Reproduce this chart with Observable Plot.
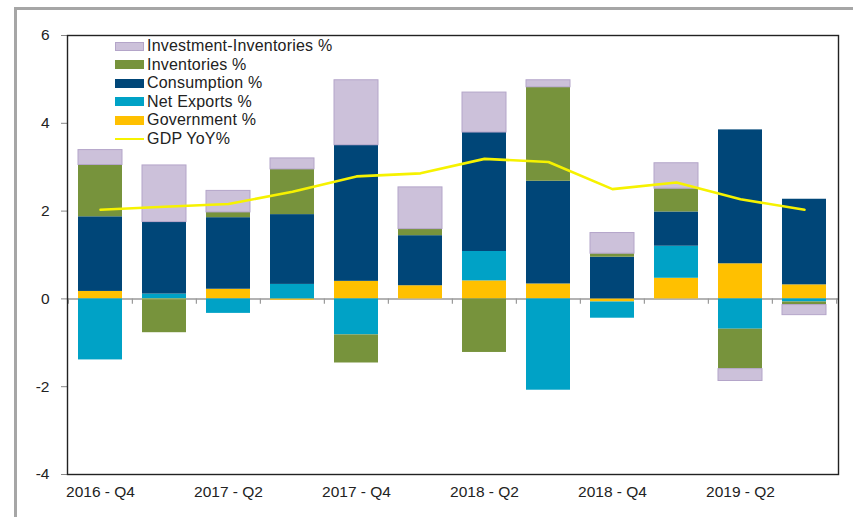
<!DOCTYPE html>
<html>
<head>
<meta charset="utf-8">
<script src="https://cdn.jsdelivr.net/npm/d3@7"></script>
<script src="https://cdn.jsdelivr.net/npm/@observablehq/plot@0.6"></script>
<style>
  html, body { margin: 0; padding: 0; background: #fff; overflow: hidden; }
  #wrap { position: relative; width: 853px; height: 517px; font-family: "Liberation Sans", Arial, sans-serif; }
  #frame { position: absolute; left: 14px; top: 7px; right: 0; bottom: -5px; border-left: 3px solid #a6a6a6; border-top: 3px solid #a6a6a6; pointer-events: none; }
  #legend { position: absolute; left: 115px; top: 37px; }
  .row { display: flex; align-items: center; height: 18.5px; font-size: 16px; color: #222; letter-spacing: 0.2px; }
  .sw { width: 29px; height: 9px; margin-right: 3px; box-sizing: border-box; }
  .ln { width: 29px; height: 2.5px; margin-right: 3px; }
</style>
</head>
<body>
<div id="wrap"><div id="chart"></div><div id="frame"></div><div id="legend"></div></div>
<script>
const quarters = ["2016 - Q4","2017 - Q1","2017 - Q2","2017 - Q3","2017 - Q4","2018 - Q1","2018 - Q2","2018 - Q3","2018 - Q4","2019 - Q1","2019 - Q2","2019 - Q3"];
const government   = [0.17, -0.02, 0.22, -0.03, 0.40, 0.30, 0.41, 0.34, -0.07, 0.47, 0.80, 0.32];
const netExports   = [-1.39, 0.11, -0.33, 0.33, -0.82, 0.00, 0.67, -2.08, -0.37, 0.73, -0.69, -0.07];
const consumption  = [1.70, 1.64, 1.63, 1.59, 3.10, 1.14, 2.71, 2.34, 0.95, 0.78, 3.05, 1.95];
const inventories  = [1.18, -0.75, 0.12, 1.03, -0.64, 0.15, -1.22, 2.14, 0.08, 0.53, -0.91, -0.07];
const investmentInv= [0.34, 1.29, 0.49, 0.25, 1.48, 0.95, 0.91, 0.16, 0.47, 0.58, -0.27, -0.23];
const gdpYoY       = [2.03, 2.10, 2.16, 2.44, 2.79, 2.86, 3.19, 3.12, 2.50, 2.65, 2.27, 2.03];
const yTicks = [-4, -2, 0, 2, 4, 6];
const xTickLabels = ["2016 - Q4","2017 - Q2","2017 - Q4","2018 - Q2","2018 - Q4","2019 - Q2"];

const seriesNames = ["Government %","Net Exports %","Consumption %","Inventories %","Investment-Inventories %"];
const seriesValues = [government, netExports, consumption, inventories, investmentInv];
const seriesColors = ["#ffc000","#00a2c6","#004678","#77933c","#ccc1da"];
const lineName = "GDP YoY%";
const lineColor = "#f6f200";

const rows = [];
seriesNames.forEach((s, i) => quarters.forEach((q, j) => rows.push({q, s, v: seriesValues[i][j]})));
const gdpRows = quarters.map((q, j) => ({q, v: gdpYoY[j]}));

const W = 853, H = 517, mL = 67, mR = 15, mT = 35, mB = 43;
const step = (W - mL - mR) / quarters.length;

const chart = Plot.plot({
  width: W, height: H,
  marginLeft: mL, marginRight: mR, marginTop: mT, marginBottom: mB,
  style: {fontFamily: "Liberation Sans, Arial, sans-serif", background: "transparent"},
  x: {domain: quarters, paddingInner: 0.31, paddingOuter: 0.155, label: null},
  y: {domain: [-4, 6], label: null},
  color: {domain: seriesNames, range: seriesColors},
  marks: [
    Plot.ruleY([0], {stroke: "#9a9a9a", strokeWidth: 1.5}),
    Plot.ruleX(quarters, {x: d => d, y1: 0, y2: -0.12, dx: -step / 2, stroke: "#9a9a9a", strokeWidth: 1.2}),
    Plot.ruleX(quarters.slice(-1), {x: d => d, y1: 0, y2: -0.12, dx: step / 2, stroke: "#9a9a9a", strokeWidth: 1.2}),
    Plot.barY(rows, {x: "q", y: "v", fill: "s",
      stroke: d => d.s === "Investment-Inventories %" ? "#b4a5c9" : "none", strokeWidth: 1}),
    Plot.line(gdpRows, {x: "q", y: "v", stroke: lineColor, strokeWidth: 2.6}),
    Plot.axisY({ticks: yTicks, tickFormat: d => String(d), tickSize: 6, tickPadding: 12, stroke: "#888", fontSize: 15.5, fill: "#222"}),
    Plot.axisX({tickSize: 0, tickPadding: 11, fontSize: 15.5, fill: "#222",
      tickFormat: d => xTickLabels.includes(d) ? d : "",
      style: {fontFamily: "Liberation Sans Narrow, Arial Narrow, Liberation Sans, sans-serif"}}),
    Plot.frame({stroke: "#222", strokeWidth: 1.4})
  ]
});
document.getElementById("chart").appendChild(chart);

const legend = document.getElementById("legend");
const legendItems = seriesNames.map((s, i) => ({s, c: seriesColors[i]})).reverse();
legendItems.forEach(({s, c}) => {
  const r = document.createElement("div"); r.className = "row";
  const sw = document.createElement("div"); sw.className = "sw"; sw.style.background = c;
  if (s === "Investment-Inventories %") sw.style.border = "1px solid #b4a5c9";
  const t = document.createElement("span"); t.textContent = s;
  r.appendChild(sw); r.appendChild(t); legend.appendChild(r);
});
{
  const r = document.createElement("div"); r.className = "row";
  const ln = document.createElement("div"); ln.className = "ln"; ln.style.background = lineColor;
  const t = document.createElement("span"); t.textContent = lineName;
  r.appendChild(ln); r.appendChild(t); legend.appendChild(r);
}
</script>
</body>
</html>
